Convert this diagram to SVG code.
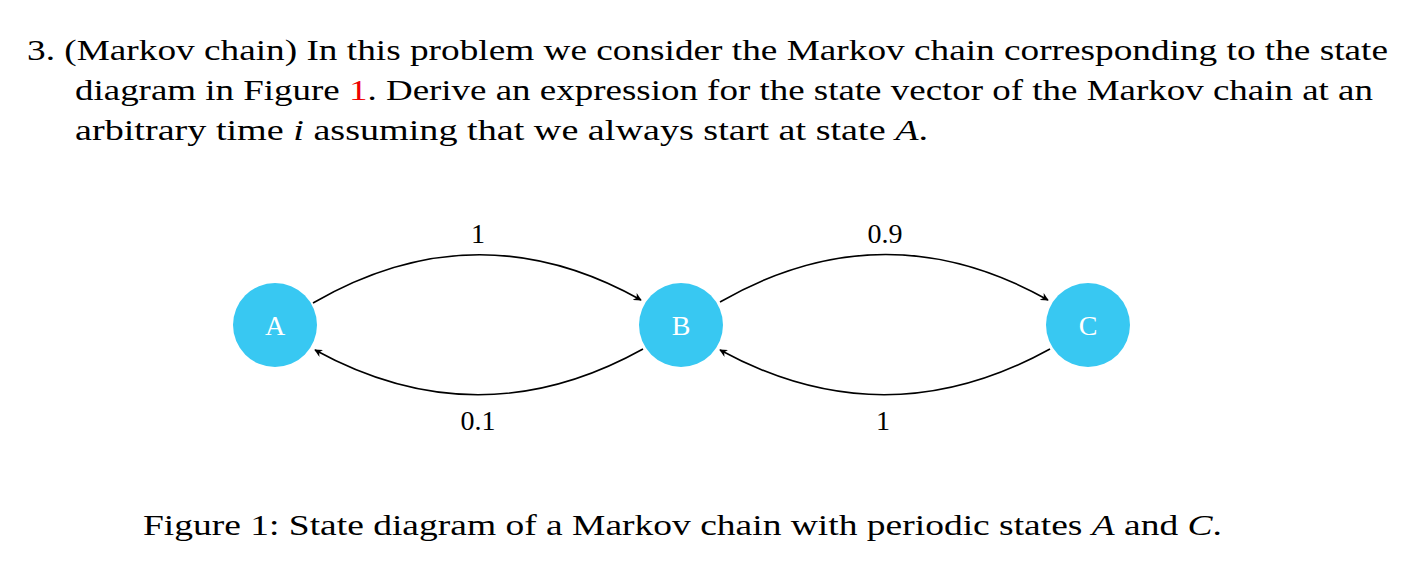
<svg xmlns="http://www.w3.org/2000/svg" width="1418" height="581" viewBox="0 0 1418 581">
<style>
.t{font-family:"Liberation Serif","DejaVu Serif",serif;font-size:29px;fill:#000}
.n{fill:#38C8F2}
.nl{font-family:"Liberation Serif",serif;font-size:28px;fill:#fff;text-anchor:middle}
.e{fill:none;stroke:#000;stroke-width:1.6;marker-end:url(#ah)}
.l{font-family:"Liberation Serif",serif;font-size:28px;text-anchor:middle}
</style>
<defs><marker id="ah" viewBox="0 0 10 10" refX="9" refY="5" markerWidth="8" markerHeight="8" markerUnits="userSpaceOnUse" orient="auto"><path d="M0,0 L10,5 L0,10 L3,5 Z" fill="#000"/></marker></defs>
<rect width="1418" height="581" fill="#fff"/>
<text class="t" x="27" y="60" textLength="1361" lengthAdjust="spacingAndGlyphs">3.  (Markov chain) In this problem we consider the Markov chain corresponding to the state</text>
<text class="t" x="75" y="100" textLength="1298" lengthAdjust="spacingAndGlyphs">diagram in Figure <tspan fill="#e00">1</tspan>. Derive an expression for the state vector of the Markov chain at an</text>
<text class="t" x="75" y="140" textLength="853" lengthAdjust="spacingAndGlyphs">arbitrary time <tspan font-style="italic">i</tspan> assuming that we always start at state <tspan font-style="italic">A</tspan>.</text>
<g id="edges">
<path class="e" d="M313,303 Q477,208 641,300"/>
<path class="e" d="M720,302 Q884,208 1048,300"/>
<path class="e" d="M643,349 Q479,440 315,350"/>
<path class="e" d="M1050,349 Q885,440 720,350"/>
<text class="l" x="478" y="243">1</text>
<text class="l" x="885" y="243">0.9</text>
<text class="l" x="478" y="430">0.1</text>
<text class="l" x="883" y="430">1</text>
</g>
<g id="A"><circle class="n" cx="275" cy="325" r="42"/><text class="nl" x="275" y="335">A</text></g>
<g id="B"><circle class="n" cx="681" cy="325" r="42"/><text class="nl" x="681" y="335">B</text></g>
<g id="C"><circle class="n" cx="1088" cy="325" r="42"/><text class="nl" x="1088" y="335">C</text></g>
<text class="t" x="143" y="535" textLength="1079" lengthAdjust="spacingAndGlyphs">Figure 1: State diagram of a Markov chain with periodic states <tspan font-style="italic">A</tspan> and <tspan font-style="italic">C</tspan>.</text>
</svg>
